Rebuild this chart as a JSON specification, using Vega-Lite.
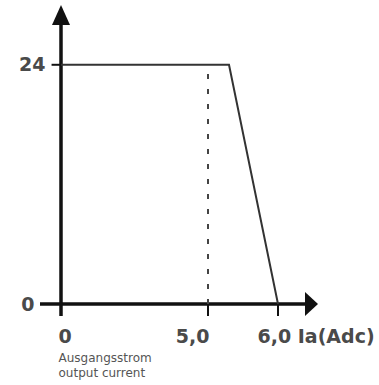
{
  "$schema": "https://vega.github.io/schema/vega-lite/v6.json",
  "autosize": "none",
  "padding": {"left": 0, "top": 0, "right": 0, "bottom": 81},
  "width": 379,
  "height": 304,
  "background": "white",
  "config": {"view": {"stroke": null}},
  "datasets": {
    "curve": [
      {"ia": 0, "u": 24},
      {"ia": 5.3, "u": 24},
      {"ia": 6.0, "u": 0}
    ],
    "axislines": [
      {"x": -1, "x2": 6.8, "y": 0, "y2": 0},
      {"x": 0, "x2": 0, "y": -1.2, "y2": 28.5}
    ],
    "ticks": [
      {"x": -0.45, "x2": 0, "y": 24, "y2": 24},
      {"x": 5, "x2": 5, "y": -1.2, "y2": 0},
      {"x": 6, "x2": 6, "y": -1.2, "y2": 0}
    ],
    "dashed": [{"x": 5, "y": 0, "y2": 23.3}],
    "uparrow": [{"x": 0, "y": 30}],
    "rightarrow": [{"x": 7, "y": 0}]
  },
  "layer": [
    {
      "data": {"name": "axislines"},
      "mark": {"type": "rule", "strokeWidth": 3.5, "color": "#111111"},
      "encoding": {
        "x": {"field": "x", "type": "quantitative",
          "scale": {"domain": [-1, 0, 5, 6, 7], "range": [40, 61, 208, 278, 318], "zero": false, "nice": false, "clamp": false},
          "axis": {
            "values": [0, 5, 6],
            "domain": false,
            "ticks": false,
            "grid": false,
            "labelExpr": "datum.value == 0 ? '0' : datum.value == 5 ? '5,0' : '6,0 Ia(Adc)'",
            "labelFont": "DejaVu Sans",
            "labelFontWeight": "bold",
            "labelFontSize": 19,
            "labelColor": "#4a4a4a",
            "labelBaseline": "alphabetic",
            "labelPadding": 38,
            "labelAlign": {"condition": {"test": "datum.value == 5", "value": "right"}, "value": "left"},
            "labelOffset": {"condition": [
              {"test": "datum.value == 0", "value": -3},
              {"test": "datum.value == 6", "value": -21}
            ], "value": 1},
            "labelOverlap": false,
            "labelFlush": false,
            "labelBound": false,
            "title": ["Ausgangsstrom", "output current"],
            "titleX": 58,
            "titleY": 48,
            "titleAlign": "left",
            "titleAnchor": "start",
            "titleBaseline": "top",
            "titleFont": "DejaVu Sans",
            "titleFontSize": 12,
            "titleFontWeight": "normal",
            "titleColor": "#555555",
            "titleLineHeight": 15
          }
        },
        "x2": {"field": "x2"},
        "y": {"field": "y", "type": "quantitative",
          "scale": {"domain": [0, 30.5], "range": [304, 0], "zero": false, "nice": false},
          "axis": {
            "values": [0, 24],
            "domain": false,
            "ticks": false,
            "grid": false,
            "offset": -48,
            "labelFont": "DejaVu Sans",
            "labelFontWeight": "bold",
            "labelFontSize": 19,
            "labelColor": "#4a4a4a",
            "labelBaseline": "middle",
            "labelPadding": {"condition": {"test": "datum.value == 0", "value": 14}, "value": 3},
            "labelOverlap": false,
            "labelFlush": false,
            "title": null
          }
        },
        "y2": {"field": "y2"}
      }
    },
    {
      "data": {"name": "ticks"},
      "mark": {"type": "rule", "strokeWidth": 2, "color": "#111111"},
      "encoding": {
        "x": {"field": "x", "type": "quantitative"},
        "x2": {"field": "x2"},
        "y": {"field": "y", "type": "quantitative"},
        "y2": {"field": "y2"}
      }
    },
    {
      "data": {"name": "dashed"},
      "mark": {"type": "rule", "strokeWidth": 2, "color": "#444444", "strokeDash": [5, 10]},
      "encoding": {
        "x": {"field": "x", "type": "quantitative"},
        "y": {"field": "y", "type": "quantitative"},
        "y2": {"field": "y2"}
      }
    },
    {
      "data": {"name": "curve"},
      "mark": {"type": "line", "strokeWidth": 2, "color": "#333333"},
      "encoding": {
        "x": {"field": "ia", "type": "quantitative"},
        "y": {"field": "u", "type": "quantitative"}
      }
    },
    {
      "data": {"name": "uparrow"},
      "mark": {"type": "point", "shape": "M0,0L0.9,2L-0.9,2Z", "size": 400, "filled": true, "color": "#111111", "opacity": 1, "strokeWidth": 0},
      "encoding": {
        "x": {"field": "x", "type": "quantitative"},
        "y": {"field": "y", "type": "quantitative"}
      }
    },
    {
      "data": {"name": "rightarrow"},
      "mark": {"type": "point", "shape": "M0,0L-1.3,-1.2L-1.3,1.2Z", "size": 400, "filled": true, "color": "#111111", "opacity": 1, "strokeWidth": 0},
      "encoding": {
        "x": {"field": "x", "type": "quantitative"},
        "y": {"field": "y", "type": "quantitative"}
      }
    }
  ]
}
